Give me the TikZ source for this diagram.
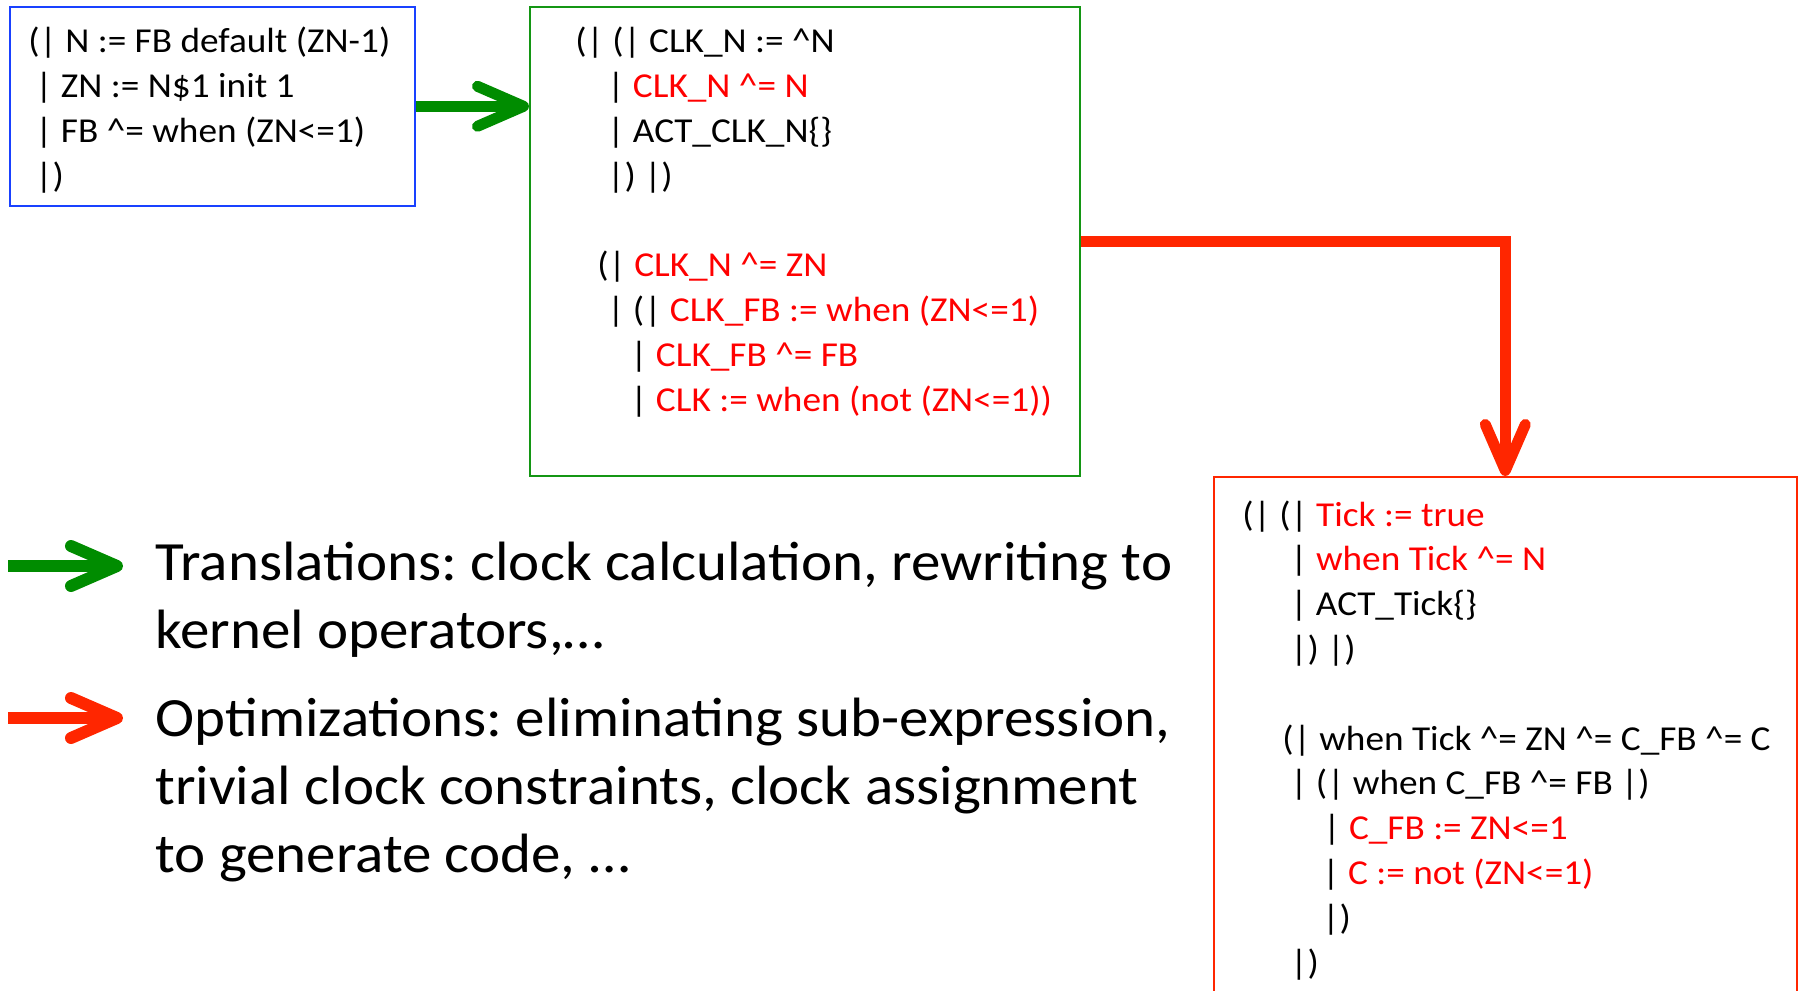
\documentclass[tikz,border=0pt]{standalone}
\usepackage{fontspec}
\setmainfont{Carlito}[FakeStretch=1.065]
\usetikzlibrary{arrows.meta,positioning}

\definecolor{boxblue}{RGB}{25,65,255}
\definecolor{boxgreen}{RGB}{20,150,20}
\definecolor{arrgreen}{RGB}{0,140,0}
\definecolor{arrred}{RGB}{255,38,0}
\definecolor{codered}{RGB}{255,0,0}

\newcommand{\rd}[1]{\textcolor{codered}{#1}}
\newcommand{\ind}[1]{\hspace*{#1pt}}
\newcommand{\caret}{\textasciicircum}

\tikzset{
  codebox/.style={draw=#1, line width=0.8pt, inner sep=0pt, anchor=north west},
  codetext/.style={anchor=base west, align=left, inner sep=0pt,
    font=\fontsize{17.5}{22.4}\selectfont},
  legendtext/.style={anchor=base west, align=left, inner sep=0pt,
    font=\fontsize{27.7}{33.8}\selectfont\frenchspacing},
  bigarrow/.style={draw=#1, line width=5.5pt,
    -{Straight Barb[round, length=23pt, width=20pt]}},
}

\begin{document}
\begin{tikzpicture}[x=0.5pt,y=-0.5pt]
  \useasboundingbox (0,0) rectangle (1803,990);
  \clip (0,0) rectangle (1803,990);

  % the three code boxes
  \node[codebox=boxblue, minimum width=202.5pt, minimum height=99.5pt] (blue) at (9,6) {};
  \node[codebox=boxgreen, minimum width=275pt, minimum height=234.5pt] (green) at (529,6) {};
  \node[codebox=arrred, minimum width=291.5pt, minimum height=300pt] (red) at (1213,476) {};

  % code (node base = last line)
  \node[codetext] (bluetxt) at (28,187) {(| N := FB default (ZN-1)\\
    \ind{3.5}| ZN := N\$1 init 1\\
    \ind{3.5}| FB \caret= when (ZN<=1)\\
    \ind{3.5}|)};

  \node[codetext] (greentxt) at (575,411) {(| (| CLK\_N := \caret N\\
    \ind{16}| \rd{CLK\_N \caret= N}\\
    \ind{16}| ACT\_CLK\_N\{\}\\
    \ind{16}|) |)\\
    ~\\
    \ind{11}(| \rd{CLK\_N \caret= ZN}\\
    \ind{16}| (| \rd{CLK\_FB := when (ZN<=1)}\\
    \ind{27.5}| \rd{CLK\_FB \caret= FB}\\
    \ind{27.5}| \rd{CLK := when (not (ZN<=1))}};

  \node[codetext] (redtxt) at (1242,974) {(| (| \rd{Tick := true}\\
    \ind{24}| \rd{when Tick \caret= N}\\
    \ind{24}| ACT\_Tick\{\}\\
    \ind{24}|) |)\\
    ~\\
    \ind{20}(| when Tick \caret= ZN \caret= C\_FB \caret= C\\
    \ind{24}| (| when C\_FB \caret= FB |)\\
    \ind{40.5}| \rd{C\_FB := ZN<=1}\\
    \ind{40}| \rd{C := not (ZN<=1)}\\
    \ind{40}|)\\
    \ind{24}|)};

  % connectors between the boxes
  \draw[bigarrow=arrgreen] (blue.east) -- (blue.east -| green.west);
  \draw[bigarrow=arrred] (green.east) -| (red.north);

  % legend
  \coordinate (gtail) at (8,566);
  \coordinate (ghead) at (123,566);
  \coordinate (rtail) at (8,718);
  \coordinate (rhead) at (123,718);
  \draw[bigarrow=arrgreen, line width=6pt] (gtail) -- (ghead);
  \draw[bigarrow=arrred, line width=6pt] (rtail) -- (rhead);

  \node[legendtext] (trans) at (155,648) {Translations: clock calculation, rewriting to\\
    kernel operators,…};
  \node[legendtext] (optim) at (155,872) {Optimizations: eliminating sub-expression,\\
    trivial clock constraints, clock assignment\\
    to generate code, …};
\end{tikzpicture}
\end{document}
